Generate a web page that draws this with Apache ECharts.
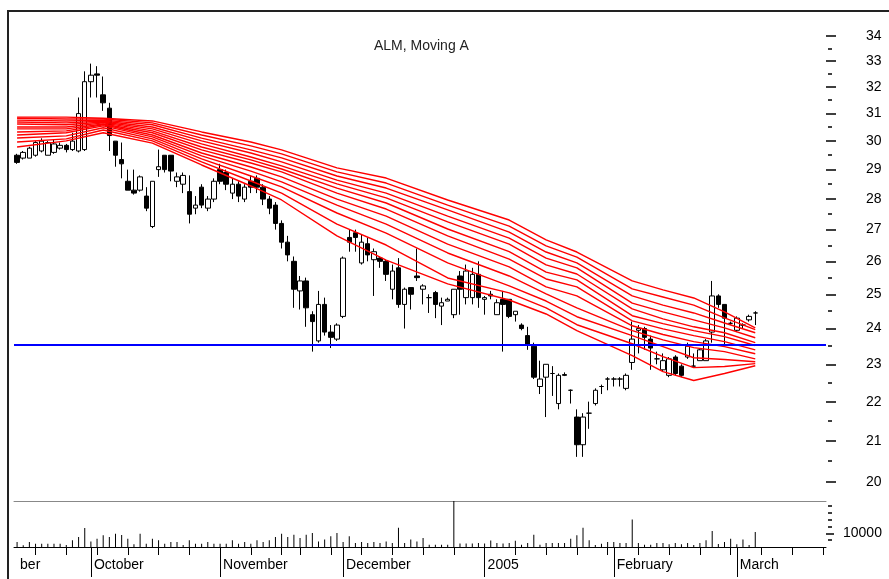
<!DOCTYPE html>
<html><head><meta charset="utf-8">
<script src="https://cdn.jsdelivr.net/npm/echarts@6/dist/echarts.min.js"></script>
<style>html,body{margin:0;padding:0;background:#fff}#c{width:889px;height:579px}</style>
</head><body><div id="c"></div>
<script>
// trading days shown on the axis (2004-09-15 .. 2005-03-21)
const sepDays = [15,16,17,20,21,22,23,24,27,28,29,30];
const octDays = [1,4,5,6,7,8,11,12,13,14,15,18,19,20,21,22,25,26,27,28,29];
const novDays = [1,2,3,4,5,8,9,10,11,12,15,16,17,22,23,24,25,26,29,30];
const decDays = [1,2,3,6,7,8,9,10,13,14,15,16,17,20,21,22,23,24,27,28,29,30,31];
const janDays = [3,4,5,6,7,10,11,12,13,14,17,18,19,20,21,24,25,26,27,28,31];
const febDays = [1,2,3,4,7,8,9,10,11,14,15,16,17,18,21,22,23,24,25,28];
const marDays = [1,2,3,4,7,8,9,10,11,14,15,16,17,18,21];
const monthLabels = {"2004-10":"October","2004-11":"November","2004-12":"December","2005-01":"2005","2005-02":"February","2005-03":"March"};
const firstLabel = "ber";

const open  = [29.5,29.4,29.4,29.5,29.65,29.5,29.6,29.75,29.85,29.7,29.65,29.7,32.2,32.5,31.7,31.2,30.0,29.35,28.6,28.3,28.3,28.1,27.1,29.0,29.5,29.5,28.6,28.5,28.25,27.7,28.4,27.7,28.0,29.0,28.9,28.2,28.5,28.0,28.6,28.7,28.4,28.0,27.8,27.2,26.6,26.0,25.1,25.4,24.4,23.65,24.7,23.9,23.7,24.35,26.75,26.9,25.95,26.55,26.05,26.1,26.0,25.15,25.8,24.7,25.2,25.55,25.15,24.9,25.05,24.65,24.8,24.4,25.55,24.9,24.9,25.6,24.85,25.0,24.4,24.85,24.85,24.4,24.1,23.8,23.5,22.4,22.65,22.75,21.95,22.72,22.3,21.6,20.9,21.7,21.95,22.4,22.6,22.6,22.6,22.35,23.05,23.95,24.0,23.7,23.15,22.85,22.7,23.2,22.95,23.2,22.95,23.1,23.1,23.9,24.95,24.7,24.15,23.95,24.1,24.25,24.45];
const close = [29.25,29.6,29.75,29.95,30.0,29.95,29.9,29.85,29.7,30.0,31.0,32.2,32.45,32.45,31.4,30.2,29.5,29.2,28.3,28.2,28.75,27.7,28.6,29.1,29.0,28.95,28.75,28.8,27.5,27.8,27.8,28.0,28.6,28.6,28.5,28.5,28.1,28.4,28.4,28.4,28.0,27.7,27.2,26.6,26.2,25.15,25.4,24.6,24.2,24.7,23.9,23.75,24.1,26.1,26.6,26.75,26.6,26.2,26.3,26.0,25.6,25.7,24.7,25.15,25.0,25.5,25.25,24.9,24.7,24.75,24.85,25.15,25.15,25.7,25.6,24.9,24.9,24.95,24.75,24.7,24.35,24.5,24.0,23.55,22.65,22.6,23.0,22.75,22.7,22.7,22.3,20.9,21.6,21.7,22.3,22.4,22.6,22.6,22.6,22.7,23.7,24.0,23.75,23.45,23.15,23.1,23.15,22.75,22.7,23.5,22.95,23.4,23.65,24.95,24.7,24.3,24.15,24.3,24.1,24.35,24.45];
const low   = [29.2,29.35,29.4,29.45,29.6,29.5,29.55,29.7,29.6,29.65,29.6,29.65,31.6,31.6,31.1,29.65,29.1,28.7,28.3,28.15,28.25,27.6,27.05,28.75,28.9,28.6,28.4,28.2,27.2,27.5,27.7,27.6,27.9,28.5,28.3,28.0,27.9,27.9,28.2,28.2,27.8,27.5,27.0,26.4,26.0,24.6,24.55,24.05,23.35,23.6,23.8,23.45,23.65,24.3,26.3,26.3,25.9,26.0,24.95,25.8,25.4,24.85,24.6,24.0,24.55,25.4,24.7,24.45,24.3,24.1,24.8,24.3,24.4,24.7,24.7,24.6,24.4,24.85,24.4,23.35,24.3,24.2,23.95,23.4,22.6,22.2,21.6,22.15,21.8,22.68,21.95,20.6,20.6,21.3,21.9,22.2,22.3,22.4,22.4,22.3,22.85,23.3,23.4,22.85,23.0,22.8,22.65,22.7,22.65,23.15,22.95,23.1,23.1,23.6,24.6,23.55,24.1,23.9,24.0,24.2,24.1];
const high  = [29.55,29.65,29.8,30.0,30.1,30.0,30.05,29.95,29.9,30.3,31.6,32.6,32.9,32.8,32.4,31.4,30.0,29.95,29.0,29.0,28.8,28.4,28.6,29.7,29.5,29.5,28.9,28.9,28.8,28.1,28.5,28.1,28.7,29.2,29.0,28.7,28.6,28.5,28.8,28.8,28.5,28.1,27.9,27.3,26.8,26.15,25.55,25.5,24.5,25.1,24.9,24.1,24.15,26.15,27.0,27.0,26.85,26.75,26.4,26.15,26.05,25.9,26.1,25.2,25.2,26.4,25.3,25.0,25.1,24.9,24.9,25.15,25.7,25.9,25.8,26.0,24.95,25.1,24.85,25.1,24.85,24.5,24.15,24.05,23.6,23.1,23.0,22.95,22.75,22.78,22.32,21.8,21.7,22.0,22.35,22.45,22.65,22.65,22.65,22.75,24.2,24.1,24.05,23.8,23.35,23.3,23.2,23.25,23.0,23.6,23.3,23.45,23.7,25.4,25.0,24.7,24.2,24.35,24.15,24.4,24.5];
const volume = [3600,1200,3600,2400,2400,2400,2400,2400,1500,4900,
 7300,13900,4000,6100,8500,7300,9700,8700,6100,2000,
 9700,2400,6100,4900,2400,3600,3600,1500,4900,2400,
 2400,3600,2400,2400,2400,4900,2400,3600,2400,4900,
 3600,4900,7300,9700,7300,
 9000,6600,9000,10200,4000,5400,7800,10200,3600,7800,
 3000,3600,3000,3600,3000,4000,3000,14000,3000,5400,
 4000,6600,1700,1700,1700,1700,33600,2500,2500,2500,
 3000,2500,4800,3000,2500,3000,4600,1700,3000,9000,
 1700,3000,3000,3000,3000,6000,
 8500,14000,4900,1500,2400,3600,3600,3000,3000,20000,
 3000,1700,1700,3000,3000,2000,3000,2000,3000,1500,
 3000,4900,11700,2200,3600,6000,2000,5400,1500,11000];

// moving-average ribbon, read at these day indices (top line first)
const maIdx = [0,8,14,22,30,38,43,52,60,70,80,86,91,100,105,110,115,120];
const ma1  = [30.87,30.87,30.83,30.73,30.33,29.97,29.69,29.06,28.71,27.97,27.31,26.67,26.29,25.40,25.13,24.89,24.48,24.02];
const ma2  = [30.83,30.80,30.80,30.66,30.22,29.83,29.55,28.92,28.54,27.80,27.11,26.48,26.13,25.16,24.92,24.68,24.31,23.97];
const ma3  = [30.76,30.73,30.76,30.59,30.11,29.69,29.41,28.78,28.37,27.64,26.92,26.29,25.95,24.95,24.68,24.45,24.16,23.88];
const ma4  = [30.69,30.66,30.73,30.51,30.01,29.58,29.27,28.64,28.20,27.44,26.73,26.10,25.80,24.74,24.48,24.25,24.02,23.74];
const ma5  = [30.62,30.59,30.69,30.44,29.90,29.44,29.13,28.51,28.04,27.25,26.54,25.89,25.61,24.57,24.28,24.05,23.88,23.60];
const ma6  = [30.51,30.51,30.66,30.37,29.79,29.34,29.02,28.37,27.87,27.02,26.30,25.67,25.43,24.37,24.14,23.94,23.77,23.52];
const ma7  = [30.44,30.44,30.62,30.30,29.69,29.23,28.92,28.20,27.67,26.80,26.07,25.46,25.22,24.22,23.99,23.80,23.63,23.40];
const ma8  = [30.33,30.37,30.59,30.22,29.58,29.09,28.75,28.00,27.44,26.54,25.83,25.22,24.95,24.08,23.83,23.63,23.49,23.29];
const ma9  = [30.22,30.30,30.55,30.15,29.48,28.95,28.58,27.80,27.18,26.26,25.55,25.01,24.60,23.94,23.68,23.46,23.35,23.15];
const ma10 = [30.11,30.19,30.48,30.08,29.37,28.78,28.41,27.54,26.89,25.95,25.25,24.80,24.34,23.80,23.49,23.18,23.13,23.07];
const ma11 = [29.97,30.08,30.40,30.01,29.27,28.61,28.20,27.18,26.51,25.49,25.04,24.60,24.11,23.57,23.21,22.91,22.94,23.02];
const ma12 = [29.79,30.01,30.30,29.93,29.16,28.44,27.97,26.80,26.04,25.31,24.83,24.42,23.94,23.24,22.80,22.56,22.75,22.96];
const supportLevel = 23.55;

const priceTicks = [20,21,22,23,24,25,26,27,28,29,30,31,32,33,34];
const priceHalfTicks = [20.5,21.5,22.5,23.5,24.5,25.5,26.5,27.5,28.5,29.5,30.5,31.5,32.5,33.5];
const volMinorTicks = [5000,15000,20000,25000,30000];
const volMajorTicks = [10000];

// ---- build
const dates = [];
const pad = n => (n < 10 ? '0' : '') + n;
[[2004,9,sepDays],[2004,10,octDays],[2004,11,novDays],[2004,12,decDays],[2005,1,janDays],[2005,2,febDays],[2005,3,marDays]]
  .forEach(([y,m,days]) => days.forEach(d => dates.push(y + '-' + pad(m) + '-' + pad(d))));
const N = dates.length;
const isMonthStart = dates.map((d,i) => i > 0 && d.slice(0,7) !== dates[i-1].slice(0,7));
const isWeekStart = dates.map(d => new Date(d + 'T12:00:00Z').getUTCDay() === 1);
const labelAt = dates.map((d,i) => i === 0 ? firstLabel : (isMonthStart[i] ? monthLabels[d.slice(0,7)] : null));

const candles = open.map((o,i) => [o, close[i], low[i], high[i]]);
const mas = [ma1,ma2,ma3,ma4,ma5,ma6,ma7,ma8,ma9,ma10,ma11,ma12];
function sparse(vals) {
  const arr = new Array(N).fill(null);
  maIdx.forEach((ix,k) => { arr[ix] = vals[k]; });
  return arr;
}
const FONT = 'Liberation Sans, Arial, sans-serif';
const gridL = 14, gridR = 63;

const chart = echarts.init(document.getElementById('c'), null, {renderer:'canvas'});
chart.setOption({
  animation:false,
  backgroundColor:'#fff',
  title:{text:'ALM, Moving A', left:369, top:34, textStyle:{fontSize:14, fontWeight:'normal', color:'#222', fontFamily:FONT}},
  graphic:[
    {type:'line', shape:{x1:8, y1:10, x2:8, y2:579}, style:{stroke:'#222', lineWidth:2}},
    {type:'line', shape:{x1:8, y1:11, x2:889, y2:11}, style:{stroke:'#222', lineWidth:2}}
  ],
  grid:[
    {left:gridL, right:gridR, top:36, height:445.7},
    {left:gridL, right:gridR, top:501, height:46}
  ],
  xAxis:[
    {type:'category', gridIndex:0, data:dates, show:false, boundaryGap:true},
    {type:'category', gridIndex:1, data:dates, position:'bottom', boundaryGap:true,
      axisLine:{show:true, onZero:false, lineStyle:{color:'#000', width:1}},
      axisTick:{show:true, alignWithLabel:true, interval:(i)=>isWeekStart[i] && !isMonthStart[i], length:8, lineStyle:{color:'#000', width:1}},
      axisLabel:{show:false}},
    {type:'category', gridIndex:1, data:dates, position:'bottom', boundaryGap:true,
      axisLine:{show:false, onZero:false},
      axisTick:{show:true, alignWithLabel:true, interval:(i)=>isMonthStart[i], length:30, lineStyle:{color:'#000', width:1}},
      axisLabel:{interval:(i)=>labelAt[i] != null, formatter:(v,i)=>labelAt[i] || '', align:'left', margin:11, padding:[0,0,0,3],
        fontSize:14, color:'#000', fontFamily:FONT}},
    {type:'category', gridIndex:1, data:dates, position:'top', boundaryGap:true,
      axisLine:{show:true, onZero:false, lineStyle:{color:'#888', width:1}}, axisTick:{show:false}, axisLabel:{show:false}}
  ],
  yAxis:[
    {type:'log', logBase:10, gridIndex:0, min:20, max:34, position:'right',
      axisLine:{show:false}, splitLine:{show:false},
      axisTick:{show:true, customValues:priceTicks, length:10, lineStyle:{color:'#000', width:1.5}},
      axisLabel:{customValues:priceTicks, margin:40, fontSize:14, color:'#000', fontFamily:FONT}},
    {type:'log', logBase:10, gridIndex:0, min:20, max:34, position:'right', offset:2,
      axisLine:{show:false}, splitLine:{show:false},
      axisTick:{show:true, customValues:priceHalfTicks, length:4, lineStyle:{color:'#000', width:1.5}},
      axisLabel:{show:false}},
    {type:'value', gridIndex:1, min:0, max:33600, position:'right',
      axisLine:{show:false}, splitLine:{show:false},
      axisTick:{show:true, customValues:volMajorTicks, length:8, lineStyle:{color:'#000', width:1.5}},
      axisLabel:{customValues:volMajorTicks, formatter:(v)=>String(v), margin:17, fontSize:14, color:'#000', fontFamily:FONT}},
    {type:'value', gridIndex:1, min:0, max:33600, position:'right', offset:2,
      axisLine:{show:false}, splitLine:{show:false},
      axisTick:{show:true, customValues:volMinorTicks, length:4, lineStyle:{color:'#000', width:1.5}},
      axisLabel:{show:false}}
  ],
  series:[
    {type:'candlestick', xAxisIndex:0, yAxisIndex:0, data:candles, barWidth:5, z:2,
      itemStyle:{color:'#fff', color0:'#000', borderColor:'#000', borderColor0:'#000', borderWidth:1},
      markLine:{silent:true, symbol:'none', label:{show:false},
        lineStyle:{color:'#0000ff', width:2, type:'solid'}, data:[{yAxis:supportLevel}]}}
  ].concat(mas.map(m => ({type:'line', xAxisIndex:0, yAxisIndex:0, data:sparse(m), connectNulls:true,
      symbol:'none', z:3, lineStyle:{color:'#ff0000', width:1.4}})))
   .concat([{type:'bar', xAxisIndex:1, yAxisIndex:2, data:volume, barWidth:1, itemStyle:{color:'#000'}}])
});
</script>
</body></html>
